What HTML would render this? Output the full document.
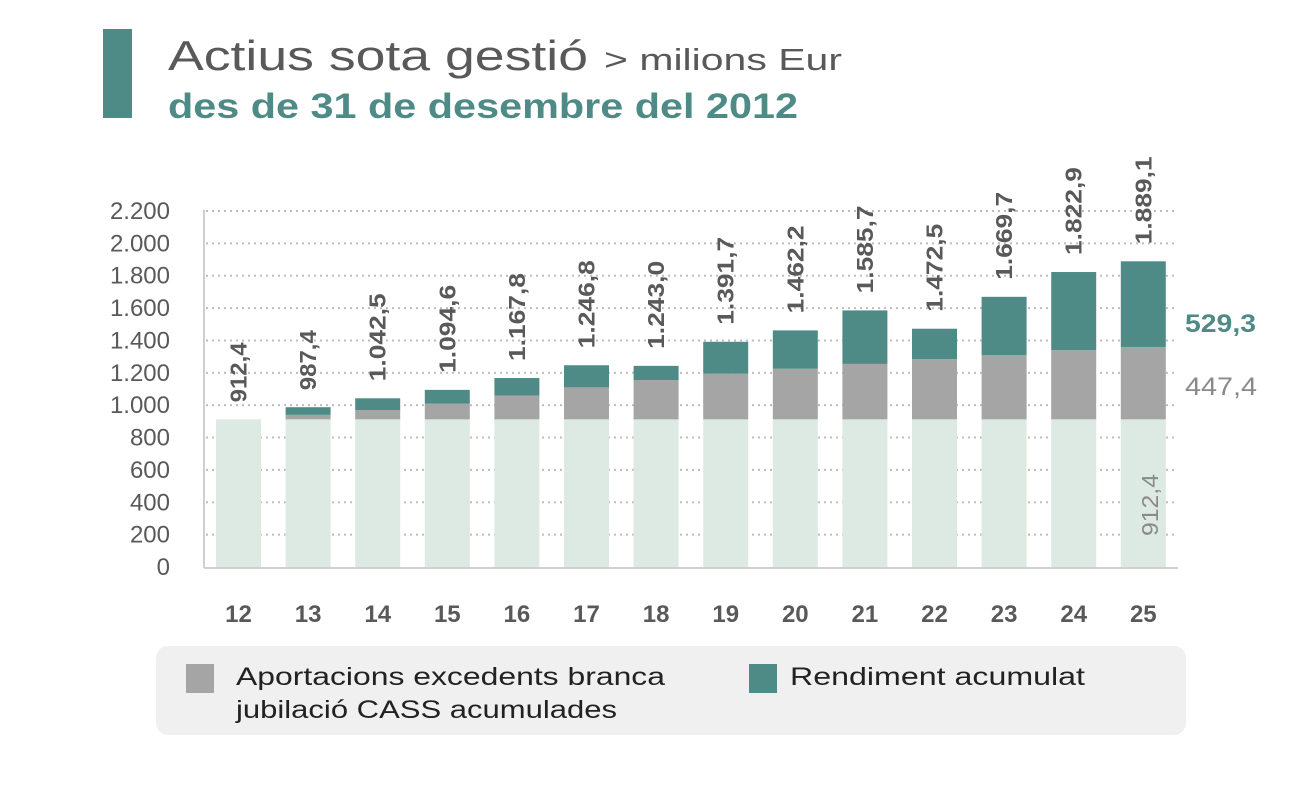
<!DOCTYPE html>
<html><head><meta charset="utf-8"><style>
body{margin:0;background:#fff;}
svg{display:block;font-family:"Liberation Sans",sans-serif;}
</style></head><body>
<svg width="1292" height="785" viewBox="0 0 1292 785">
<rect x="103" y="29" width="29" height="89" fill="#4e8b86"/>
<text x="168" y="70" font-size="42" fill="#595959" textLength="420" lengthAdjust="spacingAndGlyphs">Actius sota gestió</text>
<text x="604" y="70" font-size="31" fill="#595959" textLength="238" lengthAdjust="spacingAndGlyphs">&gt; milions Eur</text>
<text x="168" y="118" font-size="35" font-weight="bold" fill="#4e8b86" textLength="630" lengthAdjust="spacingAndGlyphs">des de 31 de desembre del 2012</text>
<g id="grid" stroke="#bdbdbd" stroke-width="2" stroke-dasharray="2,4"></g>
<line x1="204" y1="210" x2="204" y2="568" stroke="#d0d0d0" stroke-width="2"/>
<line x1="204" y1="568" x2="1178" y2="568" stroke="#d0d0d0" stroke-width="2"/>
<g id="yl" font-size="24" fill="#595959" text-anchor="end"></g>
<g id="bars"></g>
<g id="xl" font-size="24" font-weight="bold" fill="#595959" text-anchor="middle"></g>
<g id="vl" font-size="23" font-weight="bold" fill="#595959"></g>
<text x="1185" y="332" font-size="25" font-weight="bold" fill="#4e8b86" textLength="71" lengthAdjust="spacingAndGlyphs">529,3</text>
<text x="1185" y="395" font-size="25" fill="#8a8a8a" textLength="72" lengthAdjust="spacingAndGlyphs">447,4</text>
<text transform="translate(1158,536) rotate(-90)" font-size="23" fill="#8a8a8a" textLength="62" lengthAdjust="spacingAndGlyphs">912,4</text>
<rect x="156" y="646" width="1030" height="89" rx="12" fill="#f0f0f0"/>
<rect x="186" y="664" width="28" height="29" fill="#a5a5a5"/>
<text x="236" y="685" font-size="25" fill="#222" textLength="429" lengthAdjust="spacingAndGlyphs">Aportacions excedents branca</text>
<text x="236" y="718" font-size="25" fill="#222" textLength="381" lengthAdjust="spacingAndGlyphs">jubilació CASS acumulades</text>
<rect x="749" y="664" width="28" height="29" fill="#4e8b86"/>
<text x="790" y="685" font-size="25" fill="#222" textLength="295" lengthAdjust="spacingAndGlyphs">Rendiment acumulat</text>
</svg>
<script>
const ns="http://www.w3.org/2000/svg";
function el(p,t,a,txt){const e=document.createElementNS(ns,t);for(const k in a)e.setAttribute(k,a[k]);if(txt)e.textContent=txt;document.getElementById(p).appendChild(e);}
const y0=567,k=356/2200;
const Y=v=>y0-v*k;
for(let v=200;v<=2200;v+=200)el("grid","line",{x1:206,x2:1178,y1:Y(v),y2:Y(v)});
for(let v=0;v<=2200;v+=200){const s=v>=1000?(Math.floor(v/1000)+"."+String(v%1000).padStart(3,"0")):String(v);el("yl","text",{x:170,y:Y(v)+8},s);}
const tot=[912.4,987.4,1042.5,1094.6,1167.8,1246.8,1243.0,1391.7,1462.2,1585.7,1472.5,1669.7,1822.9,1889.1];
const gr=[912.4,940,970,1010,1060,1110,1155,1195,1225,1255,1285,1310,1340,1359.8];
const lab=["912,4","987,4","1.042,5","1.094,6","1.167,8","1.246,8","1.243,0","1.391,7","1.462,2","1.585,7","1.472,5","1.669,7","1.822,9","1.889,1"];
for(let i=0;i<14;i++){
 const cx=238.5+i*69.6,x=cx-22.5,w=45;
 el("bars","rect",{x:x,y:Y(912.4),width:w,height:912.4*k,fill:"#dde9e3"});
 if(i>0){el("bars","rect",{x:x,y:Y(gr[i]),width:w,height:(gr[i]-912.4)*k,fill:"#a5a5a5"});
 el("bars","rect",{x:x,y:Y(tot[i]),width:w,height:(tot[i]-gr[i])*k,fill:"#4e8b86"});}
 el("xl","text",{x:cx,y:622},String(12+i));
 const L=lab[i].length===5?60:88;
 el("vl","text",{transform:`translate(${cx+8},${Y(tot[i])-17}) rotate(-90)`,textLength:L,lengthAdjust:"spacingAndGlyphs"},lab[i]);
}
</script>
</body></html>
